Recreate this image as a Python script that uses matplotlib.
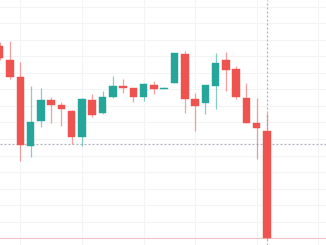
import matplotlib
matplotlib.use("Agg")
import matplotlib.pyplot as plt
import numpy as np

opens  = [199, 185, 168,  99, 124, 145, 140, 134, 108, 145, 132, 148, 158.7, 157, 148, 160, 156, 162, 191, 146, 142, 159, 185, 176, 147, 122, 114]
highs  = [203, 204, 183, 159, 157, 148, 143, 135, 147, 151, 154, 169, 166,   157, 162, 164, 157.5, 192, 194, 152, 160, 192, 193, 179, 162, 147, 132]
lows   = [185, 166,  84,  88, 118, 122, 119, 101,  99, 128, 131, 147, 152,   143, 144, 151, 155.5, 162, 132, 114, 131, 136, 154, 146, 122,  86,   6]
closes = [187, 168, 100, 123, 145, 140, 136, 108, 146, 130, 148, 159, 157,   148, 161, 156, 157, 192, 146, 139, 160, 182, 175, 148, 122, 117,   7]

ref_level = 101
last_price = 7
grid_y = [7 + 16.5 * k for k in range(15)]
grid_x = [2, 8, 14, 19, 25, 31]

UP = "#26a69a"
DOWN = "#ef5350"

fig = plt.figure(figsize=(3.26, 2.45), dpi=100)
ax = fig.add_axes([0, 0, 1, 1])
ax.set_xlim(0.027, 31.74)
ax.set_ylim(0, 245)
ax.axis("off")

for gy in grid_y:
    ax.axhline(gy, color="#f3f4f6", lw=0.8, zorder=0)
for gx in grid_x:
    ax.axvline(gx, color="#f3f4f6", lw=0.8, zorder=0)

ax.axhline(ref_level, color="#b2b5be", lw=0.9, ls=(0, (1.6, 1.6)), zorder=1)
ax.axhline(last_price, color="#ef5350", lw=0.8, alpha=0.3, zorder=1)
ax.axvline(len(opens) - 1, color="#b2b5be", lw=0.9, ls=(0, (1.6, 1.6)), zorder=1.5)

x = np.arange(len(opens))
for i in x:
    o, h, l, c = opens[i], highs[i], lows[i], closes[i]
    col = UP if c >= o else DOWN
    ax.vlines(i, l, h, color=col, lw=0.9, alpha=0.55, zorder=2)
    bottom = min(o, c)
    height = max(abs(c - o), 1.2)
    ax.bar(i, height, bottom=bottom, width=0.73, color=col, edgecolor=col, lw=0.3, zorder=3)

fig.savefig("out.png", dpi=100, facecolor="white")
